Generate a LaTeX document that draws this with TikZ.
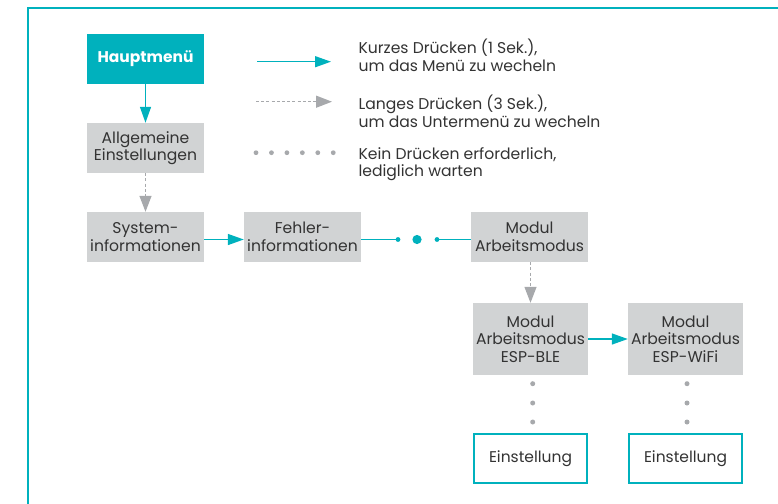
\documentclass[tikz,border=0pt]{standalone}
\usepackage{fontspec}
\setmainfont{Poppins}
\usetikzlibrary{arrows.meta}
\definecolor{tealc}{HTML}{00B1BD}
\definecolor{boxgray}{HTML}{D1D3D4}
\definecolor{arrgray}{HTML}{A7A9AC}
\definecolor{txtc}{HTML}{333333}
\begin{document}
\begin{tikzpicture}[x=1pt,y=-1pt,
  every node/.style={font=\fontsize{15.6}{17.5}\selectfont, text=txtc},
  graybox/.style={fill=boxgray, minimum width=117pt, minimum height=50pt, align=center, inner sep=0pt},
  tealbox/.style={fill=tealc, minimum width=117pt, minimum height=50pt, align=center, inner sep=0pt, text=white, font=\fontsize{15.5}{17}\selectfont\bfseries},
  setbox/.style={draw=tealc, line width=2pt, fill=white, minimum width=113pt, minimum height=49pt, align=center, inner sep=0pt},
  shortarr/.style={draw=tealc, line width=1.4pt, -{Triangle[length=16pt,width=11pt]}},
  longarr/.style={draw=arrgray, line width=1.3pt, dash pattern=on 3pt off 2.2pt, -{Triangle[length=16pt,width=12pt]}},
  legtext/.style={anchor=base west, align=left}
]
\useasboundingbox (0,0) rectangle (778,503);
\clip (0,0) rectangle (778,503);
\draw[tealc, line width=2pt] (28,8.5) rectangle (820,540);

% boxes
\node[tealbox] (hm) at (145.5,59) {Hauptmenü};
\node[graybox] (ae) at (145.5,148) {Allgemeine\\Einstellungen};
\node[graybox] (si) at (145.5,237) {System-\\informationen};
\node[graybox] (fi) at (302.5,237) {Fehler-\\informationen};
\node[graybox] (ma) at (529.5,237) {Modul\\Arbeitsmodus};
\node[graybox, minimum width=115pt, minimum height=72pt] (ble) at (530.5,339) {Modul\\Arbeitsmodus\\ESP-BLE};
\node[graybox, minimum width=115pt, minimum height=72pt] (wifi) at (685.5,339) {Modul\\Arbeitsmodus\\ESP-WiFi};
\node[setbox, font=\fontsize{15.5}{17.5}\selectfont] (e1) at (530.5,458.5) {Einstellung};
\node[setbox, font=\fontsize{15.5}{17.5}\selectfont] (e2) at (685.5,458.5) {Einstellung};

% connectors
\draw[shortarr] (hm) -- (ae);
\draw[longarr] (ae) -- (si);
\draw[shortarr] ([yshift=-2.5pt]si.east) -- ([yshift=-2.5pt]fi.west);
\coordinate (d1) at (398,239.5);
\coordinate (d2) at (417,239.5);
\coordinate (d3) at (437,239.5);
\draw[tealc, line width=1.4pt] ([yshift=-2.5pt]fi.east) -- (d1);
\draw[tealc, line width=1.4pt] (d3) -- ([yshift=-2.5pt]ma.west);
\fill[tealc] (d1) circle (2.4pt) (d3) circle (2.4pt) (d2) circle (4.6pt);
\draw[longarr] (ma.south -| ble.north) -- (ble.north);
\draw[shortarr] (ble) -- (wifi);

% dotted waits
\foreach \y in {383.7,403,422}{
  \fill[arrgray] (532.7,\y) circle (2.5pt);
  \fill[arrgray] (687,\y) circle (2.5pt);
}

% legend
\coordinate (l1a) at (257,61.7); \coordinate (l1b) at (331,61.7);
\draw[shortarr] (l1a) -- (l1b);
\coordinate (l2a) at (256,101.7); \coordinate (l2b) at (332,101.7);
\draw[longarr] (l2a) -- (l2b);
\foreach \i in {0,...,5}{
  \fill[arrgray] (256+\i*15.45,152.7) circle (2.4pt);
}
\node[legtext] (t1) at (355,71.3) {Kurzes Drücken (1 Sek.),\\um das Menü zu wecheln};
\node[legtext] (t2) at (355,127.3) {Langes Drücken (3 Sek.),\\um das Untermenü zu wecheln};
\node[legtext] (t3) at (355,176.7) {Kein Drücken erforderlich,\\lediglich warten};
\end{tikzpicture}
\end{document}
